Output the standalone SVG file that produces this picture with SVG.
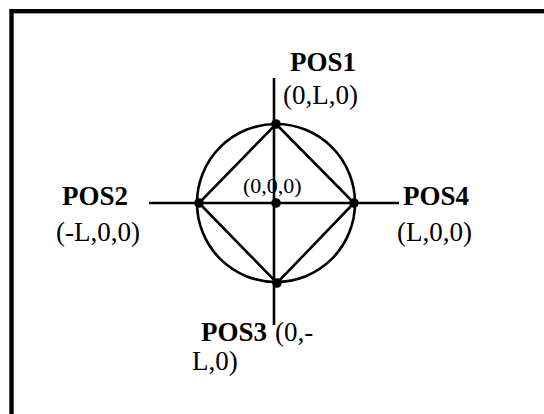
<svg xmlns="http://www.w3.org/2000/svg" width="544" height="414" viewBox="0 0 544 414">
  <style>
    .ln { stroke: #000; stroke-width: 2.6; fill: none; }
    .dot { fill: #000; }
    .bold { font-family: "Liberation Serif", "Times New Roman", serif; font-weight: bold; font-size: 27px; fill: #000; }
    .reg { font-family: "Liberation Serif", "Times New Roman", serif; font-size: 27px; fill: #000; }
    .small { font-family: "Liberation Serif", "Times New Roman", serif; font-size: 22px; fill: #000; }
  </style>
  <rect width="544" height="414" fill="#fff"/>
  <!-- frame, running off the right and bottom edges -->
  <rect x="11.5" y="11.2" width="560" height="440" fill="none" stroke="#000" stroke-width="4.4"/>

  <g id="connectors">
    <line class="ln" x1="274" y1="78" x2="274" y2="325"/>
    <line class="ln" x1="149" y1="203" x2="399" y2="203"/>
    <circle class="ln" cx="276" cy="203" r="79"/>
    <polygon class="ln" points="276,124 354,203 277,283 199,203"/>
  </g>

  <g id="origin">
    <circle class="dot" cx="276" cy="203" r="4.8"/>
    <text class="small" x="243" y="193">(0,0,0)</text>
  </g>
  <g id="pos1">
    <circle class="dot" cx="276" cy="124" r="4.8"/>
    <text class="bold" x="290" y="71">POS1</text>
    <text class="reg" x="283" y="104">(0,L,0)</text>
  </g>
  <g id="pos2">
    <circle class="dot" cx="199" cy="203" r="4.8"/>
    <text class="bold" x="62" y="205">POS2</text>
    <text class="reg" x="56" y="241">(-L,0,0)</text>
  </g>
  <g id="pos3">
    <circle class="dot" cx="277" cy="283" r="4.8"/>
    <text class="bold" x="201" y="341">POS3</text>
    <text class="reg" x="275" y="341">(0,-</text>
    <text class="reg" x="192" y="370">L,0)</text>
  </g>
  <g id="pos4">
    <circle class="dot" cx="354" cy="203" r="4.8"/>
    <text class="bold" x="403" y="205">POS4</text>
    <text class="reg" x="397" y="241">(L,0,0)</text>
  </g>
</svg>
